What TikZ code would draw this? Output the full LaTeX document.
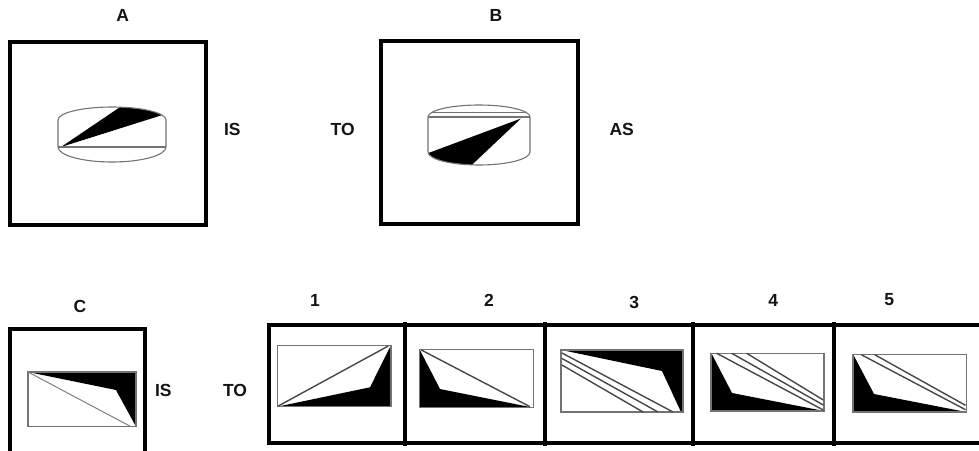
\documentclass[tikz,border=0pt]{standalone}
\usepackage{fontspec}
\setmainfont{Liberation Sans}
\begin{document}
\begin{tikzpicture}[x=1pt,y=1pt,
  lbl/.style={font=\fontsize{17.5}{17.5}\selectfont\bfseries, text=black!92, inner sep=0pt},
  frame/.style={line width=4pt, draw=black},
  outl/.style={line width=1.1pt, draw=black!55},
  diag/.style={line width=1.4pt, draw=black!72},
]
\useasboundingbox (0,0) rectangle (979,-450);
\fill[white] (0,0) rectangle (979,-450);
\begin{scope}
\clip (0,0) rectangle (979,-450);

% ---------- labels ----------
\node[lbl] (labA) at (122.7,-15) {A};
\node[lbl] (labB) at (496,-15) {B};
\node[lbl] (isA) at (232.3,-129.3) {IS};
\node[lbl] (toB) at (342.7,-129.3) {TO};
\node[lbl] (asB) at (621.7,-129.3) {AS};
\node[lbl] (labC) at (80,-306) {C};
\node[lbl] (isC) at (163.3,-390) {IS};
\node[lbl] (toC) at (235,-390) {TO};
\node[lbl] (lab1) at (315,-300.7) {1};
\node[lbl] (lab2) at (489,-300.7) {2};
\node[lbl] (lab3) at (634.3,-302.7) {3};
\node[lbl] (lab4) at (773.3,-300.7) {4};
\node[lbl] (lab5) at (889.3,-299.3) {5};

% ---------- box A ----------
\draw[frame] (9.5,-42) rectangle (206,-225);
\fill[black] (61,-147) -- (119.98,-107.14) arc[start angle=81.5, end angle=22, x radius=54, y radius=13] -- cycle;
\draw[outl] (58,-120) arc[start angle=180, end angle=0, x radius=54, y radius=13]
  -- (166,-147) arc[start angle=0, end angle=-180, x radius=54, y radius=15] -- cycle;
\draw[outl] (58,-147) -- (166,-147);

% ---------- box B ----------
\draw[frame] (380.5,-41) rectangle (578,-224);
\fill[black] (521,-118.5) -- (428.2,-153.1) arc[start angle=185, end angle=262, x radius=51, y radius=13] -- cycle;
\draw[outl] (428,-117) arc[start angle=180, end angle=0, x radius=51, y radius=12]
  -- (530,-152) arc[start angle=0, end angle=-180, x radius=51, y radius=13] -- cycle;
\draw[outl] (428,-117) -- (530,-117);
\draw[outl] (431.7,-112.5) -- (526.3,-112.5);

% ---------- box C ----------
\draw[frame] (10,-460) -- (10,-328.5) -- (144.5,-328.5) -- (144.5,-460);
\fill[black] (28,-372) -- (136,-372) -- (136,-426.7) -- (116,-390) -- cycle;
\draw[outl] (28,-372) rectangle (136,-426.7);
\draw[line width=1pt, draw=black!50] (29,-372.5) -- (131,-426.7);

% ---------- answer strip ----------
\draw[frame] (985,-325) -- (268.7,-325) -- (268.7,-442.7) -- (985,-442.7);
\foreach \dx in {404.5,545.3,693.3,833.8}{
  \draw[frame] (\dx,-322) -- (\dx,-446);
}

% option 1
\fill[black] (277.3,-406.7) -- (370,-387.3) -- (390.5,-346) -- (391,-406.7) -- cycle;
\draw[outl] (277.3,-345.3) rectangle (391,-406.7);
\draw[diag] (278.3,-406) -- (388.3,-346);

% option 2
\fill[black] (419.8,-349.8) -- (440,-389) -- (533.3,-407.7) -- (419.3,-407.7) -- cycle;
\draw[outl] (419.3,-349.3) rectangle (533.3,-407.7);
\draw[diag] (421.3,-350) -- (530,-406.7);

% option 3
\fill[black] (561.5,-350) -- (683,-350) -- (683,-412) -- (681,-412) -- (662,-371) -- cycle;
\draw[outl] (561,-350) rectangle (683,-412);
\draw[diag] (562,-353) -- (673,-412);
\draw[diag] (562,-358.5) -- (658,-412);
\draw[diag] (562,-365) -- (643,-412);

% option 4
\fill[black] (711.5,-353.5) -- (732,-393) -- (824,-411) -- (711,-411) -- cycle;
\draw[outl] (711,-353.3) rectangle (824,-411);
\draw[diag] (716.7,-353.3) -- (823.3,-410);
\draw[diag] (731.7,-353.3) -- (823.3,-405);
\draw[diag] (746.7,-353.3) -- (823.3,-400);

% option 5
\fill[black] (853.5,-355) -- (874,-394) -- (966.3,-412) -- (853,-412) -- cycle;
\draw[outl] (853,-354.7) rectangle (966.3,-412);
\draw[diag] (861.3,-354.7) -- (965.5,-409.7);
\draw[diag] (874.7,-354.7) -- (965.5,-405.3);
\end{scope}
\end{tikzpicture}
\end{document}
